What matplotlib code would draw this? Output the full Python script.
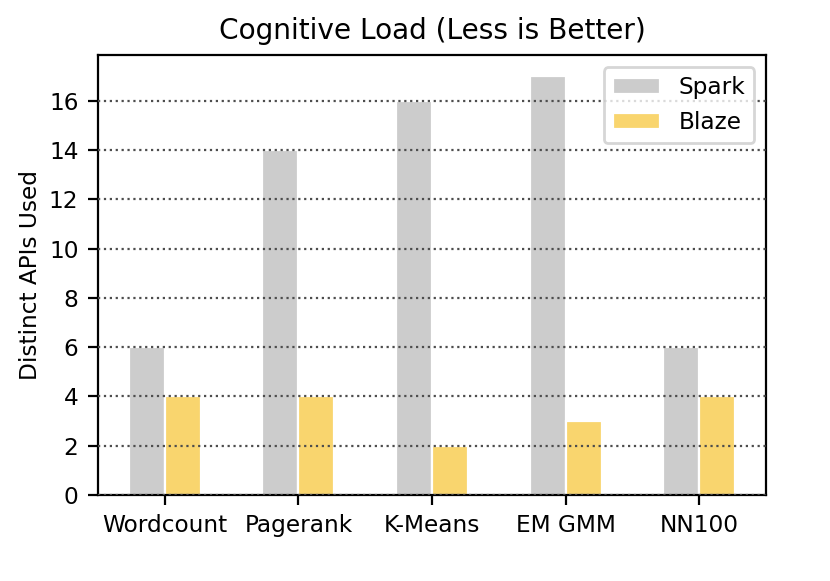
import matplotlib
matplotlib.use('Agg')
import matplotlib.pyplot as plt
import numpy as np

# benchmark names and number of distinct APIs used
benchmarks = ['Wordcount', 'Pagerank', 'K-Means', 'EM GMM', 'NN100']
spark_apis = [6, 14, 16, 17, 6]
blaze_apis = [4, 4, 2, 3, 4]


def main():
    plt.rcParams['font.size'] = 8.4
    fig = plt.figure(figsize=(4.15, 2.905), dpi=200)
    ax = fig.add_axes([0.118, 0.148, 0.805, 0.757])

    x = np.arange(len(benchmarks))
    width = 0.27
    ax.bar(x - width / 2, spark_apis, width, color='#cccccc',
           edgecolor='white', linewidth=0.8, label='Spark')
    ax.bar(x + width / 2, blaze_apis, width, color='#f9d56e',
           edgecolor='white', linewidth=0.8, label='Blaze')

    ax.set_xticks(x)
    ax.set_xticklabels(benchmarks)
    ax.set_xlim(-0.5, len(benchmarks) - 0.5)
    ax.set_yticks(range(0, 17, 2))
    ax.set_ylabel('Distinct APIs Used')
    ax.yaxis.set_label_coords(-0.084, 0.5)
    ax.set_title('Cognitive Load (Less is Better)')

    # dotted grid drawn above the bars
    ax.set_axisbelow(False)
    ax.yaxis.grid(True, linestyle=':', color='0.3', linewidth=0.8)

    ax.legend(loc='upper right')
    fig.savefig('out.png', dpi=200)


main()
